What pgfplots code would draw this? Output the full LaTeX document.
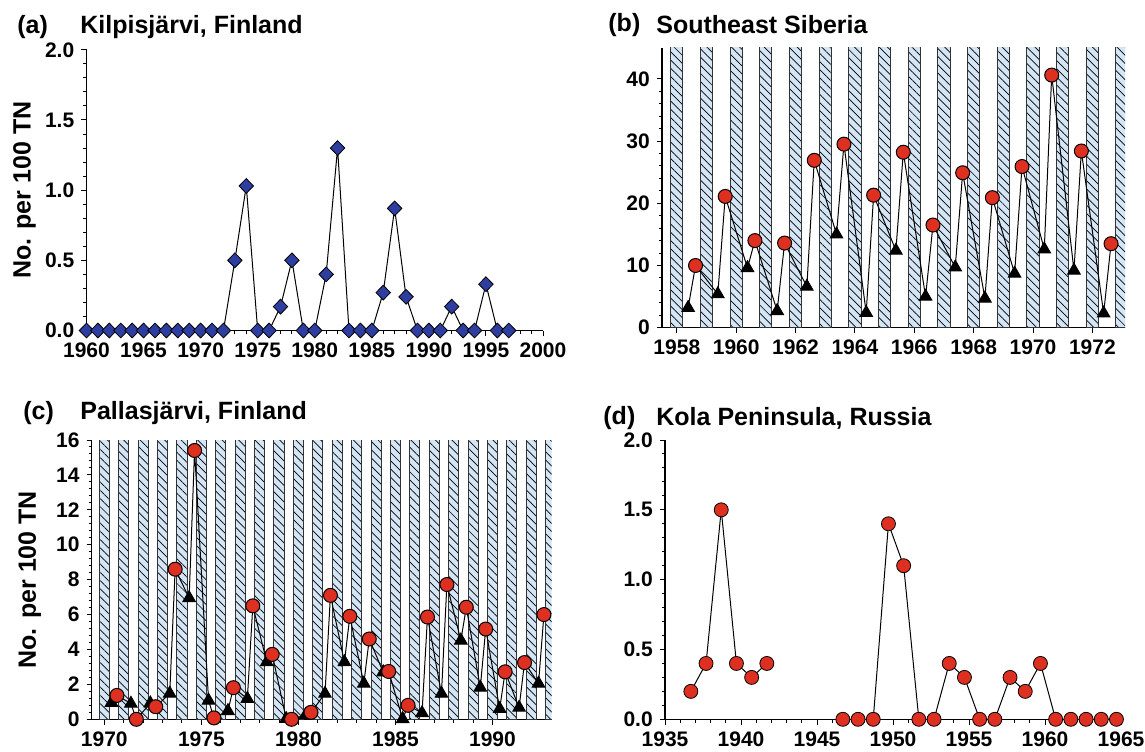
\documentclass[border=0pt]{standalone}
\usepackage{fontspec}
\setmainfont{Liberation Sans}
\usepackage{pgfplots}
\pgfplotsset{compat=1.18}
\usepackage{pgfplotstable}
\usetikzlibrary{patterns.meta}

\definecolor{bandblue}{RGB}{212,229,245}
\definecolor{ptred}{RGB}{222,48,32}
\definecolor{dblue}{RGB}{46,62,160}

\pgfplotstableread{
x y
1960 0
1961 0
1962 0
1963 0
1964 0
1965 0
1966 0
1967 0
1968 0
1969 0
1970 0
1971 0
1972 0
1973 0.5
1974 1.03
1975 0
1976 0
1977 0.17
1978 0.5
1979 0
1980 0
1981 0.4
1982 1.3
1983 0
1984 0
1985 0
1986 0.27
1987 0.87
1988 0.24
1989 0
1990 0
1991 0
1992 0.17
1993 0
1994 0
1995 0.33
1996 0
1997 0
}\dataA

\pgfplotstableread{
x y c
1958.38 3.2 t
1958.63 10.0 c
1959.38 5.4 t
1959.63 21.1 c
1960.38 9.6 t
1960.63 14.0 c
1961.38 2.7 t
1961.63 13.6 c
1962.38 6.6 t
1962.63 26.9 c
1963.38 15.0 t
1963.63 29.5 c
1964.38 2.4 t
1964.63 21.3 c
1965.38 12.4 t
1965.63 28.2 c
1966.38 5.0 t
1966.63 16.5 c
1967.38 9.7 t
1967.63 24.9 c
1968.38 4.7 t
1968.63 20.9 c
1969.38 8.7 t
1969.63 25.9 c
1970.38 12.6 t
1970.63 40.6 c
1971.38 9.2 t
1971.63 28.4 c
1972.38 2.3 t
1972.63 13.5 c
}\dataB

\pgfplotstableread{
x y c
1970.37 0.95 t
1970.65 1.37 c
1971.37 0.9 t
1971.65 0.0 c
1972.37 0.92 t
1972.65 0.72 c
1973.37 1.48 t
1973.65 8.6 c
1974.37 6.95 t
1974.65 15.4 c
1975.37 1.08 t
1975.65 0.08 c
1976.37 0.48 t
1976.65 1.81 c
1977.37 1.18 t
1977.65 6.5 c
1978.37 3.28 t
1978.65 3.72 c
1979.37 0.03 t
1979.65 0.0 c
1980.37 0.25 t
1980.65 0.4 c
1981.37 1.47 t
1981.65 7.1 c
1982.37 3.28 t
1982.65 5.9 c
1983.37 2.05 t
1983.65 4.6 c
1984.37 2.7 t
1984.65 2.74 c
1985.37 0.02 t
1985.65 0.8 c
1986.37 0.36 t
1986.65 5.86 c
1987.37 1.47 t
1987.65 7.72 c
1988.37 4.52 t
1988.65 6.42 c
1989.37 1.82 t
1989.65 5.17 c
1990.37 0.6 t
1990.65 2.72 c
1991.37 0.67 t
1991.65 3.25 c
1992.37 2.05 t
1992.65 6.0 c
}\dataC

\pgfplotstableread{
x y
1936.7 0.2
1937.7 0.4
1938.7 1.5
1939.7 0.4
1940.7 0.3
1941.7 0.4
1944.0 nan
1946.7 0
1947.7 0
1948.7 0
1949.7 1.4
1950.7 1.1
1951.7 0
1952.7 0
1953.7 0.4
1954.7 0.3
1955.7 0
1956.7 0
1957.7 0.3
1958.7 0.2
1959.7 0.4
1960.7 0
1961.7 0
1962.7 0
1963.7 0
1964.7 0
}\dataD

\pgfplotsset{
  panel/.style={
    scale only axis,
    axis lines*=left,
    axis line style={-, line width=0.6pt},
    tick align=outside,
    major tick length=2.6pt,
    minor tick length=1.6pt,
    every tick/.style={black, line width=0.5pt},
    tick label style={font=\fontsize{10.5}{13}\selectfont\bfseries},
    /pgf/number format/assume math mode=true,
    /pgf/number format/1000 sep={},
    scaled ticks=false,
    clip mode=individual,
    minor x tick num=4,
    minor y tick num=4,
    every axis y label/.style={at={(axis description cs:0,0.5)}, xshift=-31pt, rotate=90, anchor=center, font=\fontsize{12.5}{14}\selectfont\bfseries},
  },
  bands/.style={ybar, bar width=#1, fill=bandblue, draw=black!80, line width=0.5pt,
    postaction={pattern={Lines[angle=-45,distance=2.9pt,line width=0.35pt]}}},
  sclasses/.style={black, line width=0.5pt, scatter, scatter src=explicit symbolic,
    scatter/classes={
      t={mark=triangle*, mark size=3.6pt, draw=black, fill=black},
      c={mark=*, mark size=3.5pt, draw=black, fill=ptred}}},
}

\newcommand{\ttl}{\fontsize{12.5}{15}\selectfont\bfseries}

\begin{document}
\begin{tikzpicture}
\path[use as bounding box] (0,0) rectangle (572.5pt,375.5pt);

% (a)
\begin{axis}[panel, at={(43.25pt,210.25pt)}, anchor=south west,
  width=228.25pt, height=140.35pt,
  xmin=1960, xmax=2000, ymin=0, ymax=2,
  xtick={1960,1965,...,2000}, ytick={0,0.5,1,1.5,2},
  yticklabel style={/pgf/number format/.cd, fixed, fixed zerofill, precision=1},
  ylabel={No. per 100 TN}]
\addplot[black, line width=0.5pt, mark=diamond*, mark size=3.7pt,
  mark options={fill=dblue, draw=black, line width=0.4pt, xscale=1.3}] table {\dataA};
\end{axis}

% (b)
\begin{axis}[panel, at={(331pt,211.65pt)}, anchor=south west,
  width=231.5pt, height=140pt,
  xmin=1957.5, xmax=1973.1, ymin=0, ymax=45,
  xtick={1958,1960,...,1972}, ytick={0,10,...,40}]
\addplot[bands=0.41] coordinates {(1958,50) (1959,50) (1960,50) (1961,50) (1962,50) (1963,50) (1964,50) (1965,50) (1966,50) (1967,50) (1968,50) (1969,50) (1970,50) (1971,50) (1972,50) (1973,50)};
\addplot[sclasses] table[meta=c] {\dataB};
\end{axis}

% (c)
\begin{axis}[panel, at={(45.85pt,15.85pt)}, anchor=south west,
  width=230pt, height=139.65pt,
  xmin=1969.35, xmax=1993.05, ymin=0, ymax=16,
  xtick={1970,1975,...,1990}, ytick={0,2,...,16},
  ylabel={No. per 100 TN}]
\addplot[bands=0.52] coordinates {(1970,50) (1971,50) (1972,50) (1973,50) (1974,50) (1975,50) (1976,50) (1977,50) (1978,50) (1979,50) (1980,50) (1981,50) (1982,50) (1983,50) (1984,50) (1985,50) (1986,50) (1987,50) (1988,50) (1989,50) (1990,50) (1991,50) (1992,50) (1993,50)};
\addplot[sclasses] table[meta=c] {\dataC};
\end{axis}

% (d)
\begin{axis}[panel, at={(332.5pt,15.85pt)}, anchor=south west,
  width=228pt, height=139.65pt,
  xmin=1935, xmax=1965, ymin=0, ymax=2,
  xtick={1935,1940,...,1965}, ytick={0,0.5,1,1.5,2},
  yticklabel style={/pgf/number format/.cd, fixed, fixed zerofill, precision=1}]
\addplot[black, line width=0.5pt, mark=*, mark size=3.5pt, unbounded coords=jump,
  mark options={fill=ptred, draw=black, line width=0.4pt}] table {\dataD};
\end{axis}

\node[anchor=west, inner sep=0, font=\ttl] at (8.5pt,362pt) {(a)};
\node[anchor=west, inner sep=0, font=\ttl] at (40pt,362pt) {Kilpisjärvi, Finland};
\node[anchor=west, inner sep=0, font=\ttl] at (304pt,363pt) {(b)};
\node[anchor=west, inner sep=0, font=\ttl] at (328pt,363pt) {Southeast Siberia};
\node[anchor=west, inner sep=0, font=\ttl] at (11.5pt,169pt) {(c)};
\node[anchor=west, inner sep=0, font=\ttl] at (40pt,169pt) {Pallasjärvi, Finland};
\node[anchor=west, inner sep=0, font=\ttl] at (301.5pt,166.5pt) {(d)};
\node[anchor=west, inner sep=0, font=\ttl] at (328pt,166.5pt) {Kola Peninsula, Russia};
\end{tikzpicture}
\end{document}
